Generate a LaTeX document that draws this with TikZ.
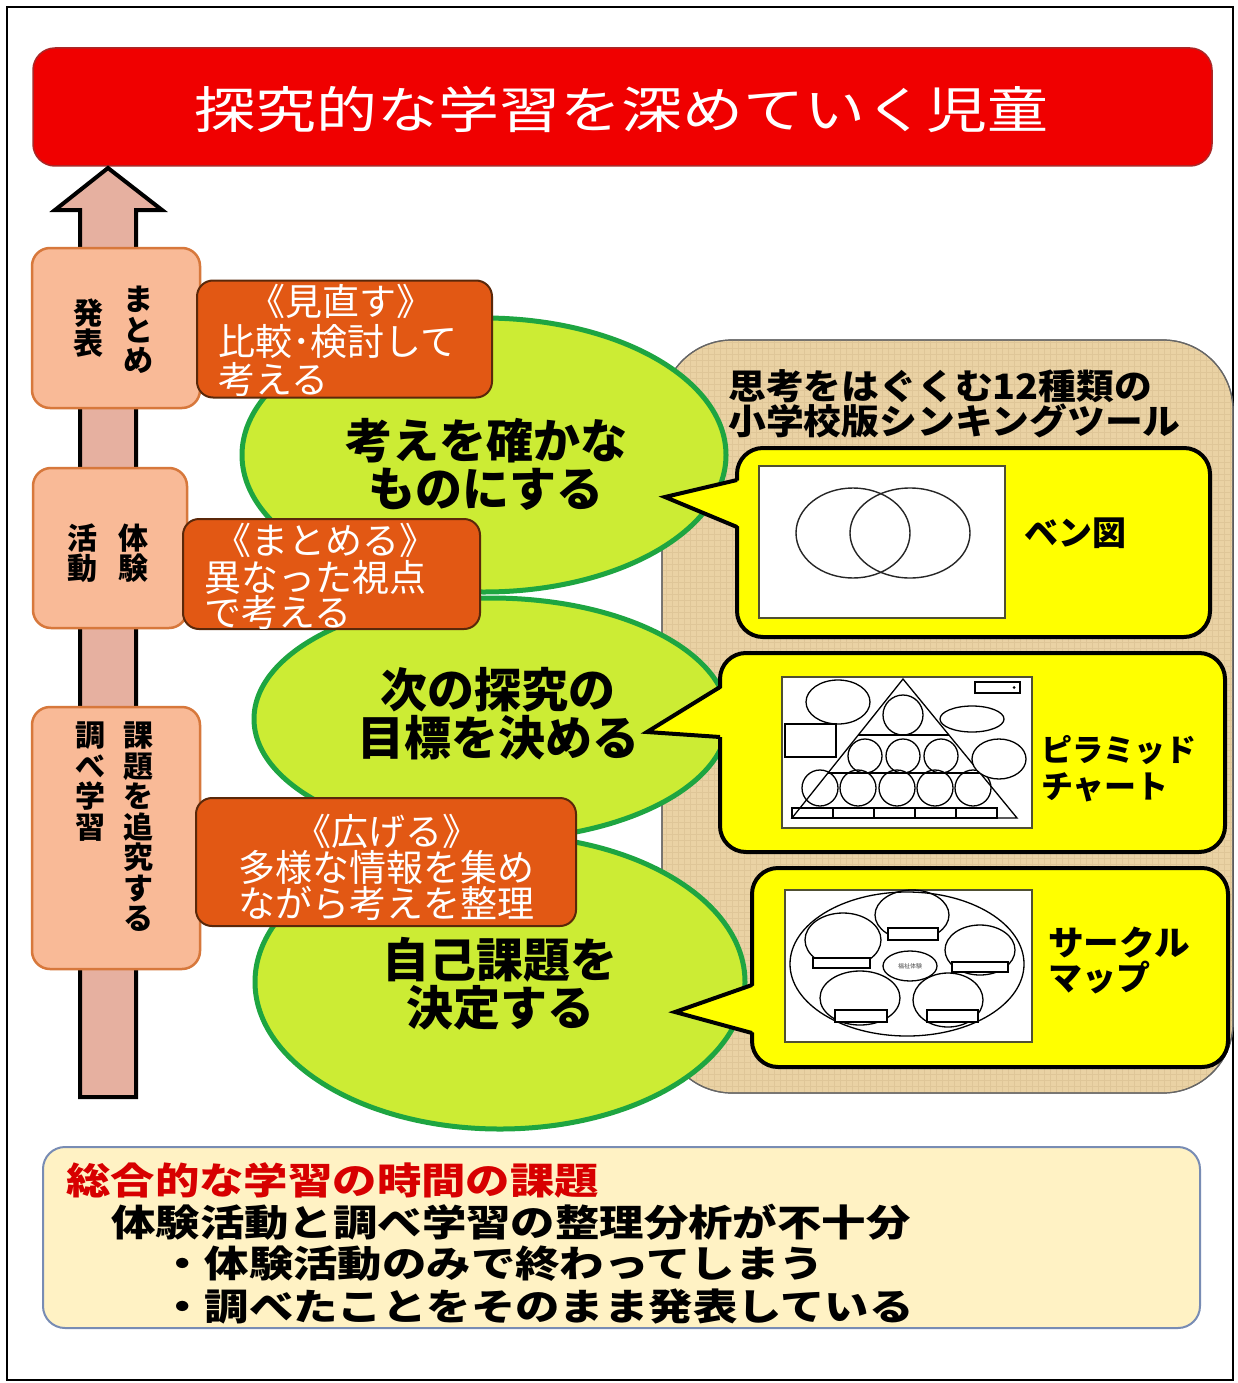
\documentclass[tikz,border=0pt]{standalone}
\usepackage{fontspec}
\usepackage{graphicx}
\newfontfamily\jp{Noto Sans CJK JP}
\newcommand\jfs[1]{\fontsize{#1}{#1}\selectfont}
\definecolor{titlered}{RGB}{240,0,0}
\definecolor{titleedge}{RGB}{170,40,40}
\definecolor{arrowfill}{RGB}{230,176,160}
\definecolor{peachfill}{RGB}{249,186,151}
\definecolor{peachedge}{RGB}{215,120,60}
\definecolor{orangefill}{RGB}{226,88,20}
\definecolor{orangeedge}{RGB}{90,40,10}
\definecolor{greenfill}{RGB}{204,236,52}
\definecolor{greenedge}{RGB}{30,165,65}
\definecolor{tanfill}{RGB}{234,210,164}
\definecolor{tanline}{RGB}{205,178,130}
\definecolor{bubyellow}{RGB}{255,255,0}
\definecolor{notefill}{RGB}{255,242,196}
\definecolor{noteedge}{RGB}{120,140,180}
\definecolor{notered}{RGB}{215,0,0}
\definecolor{imgedge}{RGB}{80,80,50}
\tikzset{
  titlebox/.style={draw=titleedge, line width=1.5pt, fill=titlered, rounded corners=22pt},
  peach/.style={draw=peachedge, line width=2.5pt, fill=peachfill, rounded corners=18pt},
  orangebox/.style={draw=orangeedge, line width=2pt, fill=orangefill, rounded corners=16pt},
  greenell/.style={draw=greenedge, line width=5pt, fill=greenfill},
  bubble/.style={draw=black, line width=4pt, fill=bubyellow, rounded corners=26pt},
  imgbox/.style={draw=imgedge, line width=1.5pt, fill=white},
  vtext/.style={font=\jp\bfseries\fontsize{30}{30.5}\selectfont, align=center, inner sep=0pt},
  otext/.style={font=\jp\fontsize{37}{38}\selectfont, text=white, inner sep=0pt},
  etext/.style={font=\jp\bfseries\fontsize{47}{48}\selectfont, align=center, inner sep=0pt},
  ptext/.style={font=\jp\bfseries\fontsize{35}{36}\selectfont, inner sep=0pt, anchor=west},
  btext/.style={font=\jp\bfseries\fontsize{34}{36}\selectfont, inner sep=0pt, anchor=west},
  ntext/.style={font=\jp\bfseries\fontsize{37}{38}\selectfont, inner sep=0pt, anchor=west},
  thin/.style={line width=1.4pt, draw=black!85},
}
\begin{document}
\begin{tikzpicture}[x=1pt,y=-1pt]
\useasboundingbox (0,0) rectangle (1237,1383);
\fill[white] (0,0) rectangle (1237,1383);
\draw[line width=2.5pt] (7,7) rectangle (1233,1380);

% title
\node[titlebox, minimum width=1179pt, minimum height=118pt] (title) at (622.5,107) {};
\node[font=\jp\jfs{50}, text=white, inner sep=0pt] (titletext) at (621,110) {\scalebox{1.22}[1]{探究的な学習を深めていく児童}};

% big arrow
\coordinate (arrowtip) at (108,168);
\draw[line width=4pt, fill=arrowfill, line join=miter]
  (80,1097) -- (80,210) -- (55,210) -- (arrowtip) -- (162,210) -- (136,210) -- (136,1097) -- cycle;

% textured panel
\node[draw=black!60, line width=1.2pt, fill=tanfill, rounded corners=70pt, minimum width=571pt, minimum height=753pt] (panel) at (947.5,716.5) {};
\begin{scope}
  \clip[rounded corners=70pt] (662,340) rectangle (1233,1093);
  \draw[tanline, line width=0.7pt, opacity=0.35] (662,340) grid[step=6pt] (1233,1093);
\end{scope}
\draw[black!60, line width=1.2pt, rounded corners=70pt] (662,340) rectangle (1233,1093);
\node[ptext] (ptitle1) at (728,386) {\scalebox{1.08}[1]{思考をはぐくむ12種類の}};
\node[ptext] (ptitle2) at (728,421) {\scalebox{1.08}[1]{小学校版シンキングツール}};

% green ellipses
\draw[greenell] (500,982) ellipse [x radius=245, y radius=147];
\node[inner sep=0pt] (e3) at (500,982) {};
\draw[greenell] (491,719) ellipse [x radius=237, y radius=121];
\node[inner sep=0pt] (e2) at (491,719) {};
\draw[greenell] (484,455) ellipse [x radius=242, y radius=137];
\node[inner sep=0pt] (e1) at (484,455) {};
\node[etext] (e1t) at (486,464) {考えを確かな\\ものにする};
\node[etext] (e2t) at (498,714) {次の探究の\\目標を決める};
\node[etext] (e3t) at (500,984) {自己課題を\\決定する};

% bubble 1 : Venn
\node[bubble, minimum width=473pt, minimum height=189pt] (bub1) at (973.5,542.5) {};
\fill[bubyellow] (741,480) -- (665,497) -- (741,527) -- cycle;
\draw[line width=4pt, line join=miter] (737,480) -- (665,497) -- (737,527);
\node[imgbox, minimum width=246pt, minimum height=152pt] (img1) at (882,542) {};
\draw[thin] (853,533) ellipse [x radius=57, y radius=45];
\draw[thin] (910,533) ellipse [x radius=60, y radius=45];
\node[btext] (lab1) at (1024,533) {ベン図};

% bubble 2 : pyramid
\node[bubble, minimum width=505pt, minimum height=199pt] (bub2) at (972.5,752.5) {};
\fill[bubyellow] (724,687) -- (647,732) -- (724,737) -- cycle;
\draw[line width=4pt, line join=miter] (720,687) -- (647,732) -- (720,737);
\node[imgbox, minimum width=250pt, minimum height=151pt] (img2) at (907,752.5) {};
\begin{scope}[line width=1.3pt]
  \draw (903,679) -- (792,818) -- (1017,818) -- cycle;
  \draw (858,735) -- (949,735);
  \draw (828,773) -- (980,773);
  \draw (903,715) circle [radius=20];
  \foreach \cx in {865,903,941} \draw (\cx,756) circle [radius=17];
  \foreach \cx in {820,858,897,935,973} \draw (\cx,788) circle [radius=18];
  \foreach \rx in {792,833,874,915,956} \draw (\rx,808) rectangle ++(41,10);
  \draw[fill=white] (838,702) ellipse [x radius=32, y radius=22];
  \draw[fill=white] (785,724) rectangle (836,757);
  \draw[fill=white] (975,682) rectangle (1020,693);
  \fill (1014,687.5) circle [radius=1.5];
  \draw[fill=white] (972,719) ellipse [x radius=32, y radius=13];
  \draw[fill=white] (999,759) ellipse [x radius=27, y radius=20];
\end{scope}
\node[font=\jp\bfseries\fontsize{31}{33}\selectfont, inner sep=0pt, anchor=west] (lab2a) at (1041,750) {ピラミッド};
\node[font=\jp\bfseries\fontsize{32}{33}\selectfont, inner sep=0pt, anchor=west] (lab2b) at (1041,787) {チャート};

% bubble 3 : circle map
\node[bubble, minimum width=476pt, minimum height=199pt] (bub3) at (990,967.5) {};
\fill[bubyellow] (756,985) -- (675,1012) -- (756,1033) -- cycle;
\draw[line width=4pt, line join=miter] (752,985) -- (675,1012) -- (752,1033);
\node[imgbox, minimum width=247pt, minimum height=152pt] (img3) at (908.5,966) {};
\begin{scope}[line width=1.3pt]
  \draw (907,964) ellipse [x radius=117, y radius=72];
  \draw (912,915) ellipse [x radius=37, y radius=25];
  \draw[fill=white] (888,928) rectangle (938,940);
  \draw (843,940) ellipse [x radius=38, y radius=27];
  \draw[fill=white] (813,958) rectangle (870,968);
  \draw (980,950) ellipse [x radius=35, y radius=25];
  \draw[fill=white] (952,962) rectangle (1008,972);
  \draw (860,998) ellipse [x radius=40, y radius=27];
  \draw[fill=white] (835,1010) rectangle (887,1022);
  \draw (948,1000) ellipse [x radius=35, y radius=27];
  \draw[fill=white] (927,1010) rectangle (978,1022);
  \draw[fill=white] (910,966) ellipse [x radius=27, y radius=15];
\end{scope}
\node[font=\jp\fontsize{6}{6}\selectfont, text=black!70, inner sep=0pt] (center3) at (910,966) {福祉体験};
\node[btext] (lab3a) at (1048,943) {\scalebox{1.05}[1]{サークル}};
\node[btext] (lab3b) at (1048,978) {マップ};

% left stage boxes
\node[peach, minimum width=168pt, minimum height=160pt] (s1) at (116,328) {};
\node[vtext] (s1r) at (138,330) {ま\\と\\め};
\node[vtext] (s1l) at (88,328) {発\\表};
\node[peach, minimum width=154pt, minimum height=160pt] (s2) at (110,548) {};
\node[vtext] (s2r) at (133,553) {体\\験};
\node[vtext] (s2l) at (82,553) {活\\動};
\node[peach, minimum width=168pt, minimum height=262pt] (s3) at (116,838) {};
\node[vtext, anchor=north] (s3r) at (138,722) {課\\題\\を\\追\\究\\す\\る};
\node[vtext, anchor=north] (s3l) at (90,722) {調\\べ\\学\\習};

% orange boxes
\node[orangebox, minimum width=295pt, minimum height=117pt] (o1) at (344.5,339) {};
\node[otext] (o1a) at (341,301) {《見直す》};
\node[otext, anchor=west] (o1b) at (218,342) {比較･検討して};
\node[otext, anchor=west] (o1c) at (218,379) {考える};
\node[orangebox, minimum width=297pt, minimum height=110pt] (o2) at (331.5,574) {};
\node[otext] (o2a) at (325,540) {《まとめる》};
\node[otext, anchor=west] (o2b) at (204,577) {異なった視点};
\node[otext, anchor=west] (o2c) at (204,612) {で考える};
\node[orangebox, minimum width=380pt, minimum height=128pt] (o3) at (386,862) {};
\node[otext] (o3a) at (387,831) {《広げる》};
\node[otext] (o3b) at (386,867) {多様な情報を集め};
\node[otext] (o3c) at (386,903) {ながら考えを整理};

% bottom note
\node[draw=noteedge, line width=2pt, fill=notefill, rounded corners=22pt, minimum width=1157pt, minimum height=181pt] (note) at (621.5,1237.5) {};
\node[ntext, text=notered] (n1) at (66,1180) {\scalebox{1.2}[1]{総合的な学習の時間の課題}};
\node[ntext] (n2) at (111,1222) {\scalebox{1.2}[1]{体験活動と調べ学習の整理分析が不十分}};
\node[ntext] (n3) at (160,1264) {\scalebox{1.2}[1]{・体験活動のみで終わってしまう}};
\node[ntext] (n4) at (160,1306) {\scalebox{1.2}[1]{・調べたことをそのまま発表している}};
\end{tikzpicture}
\end{document}
